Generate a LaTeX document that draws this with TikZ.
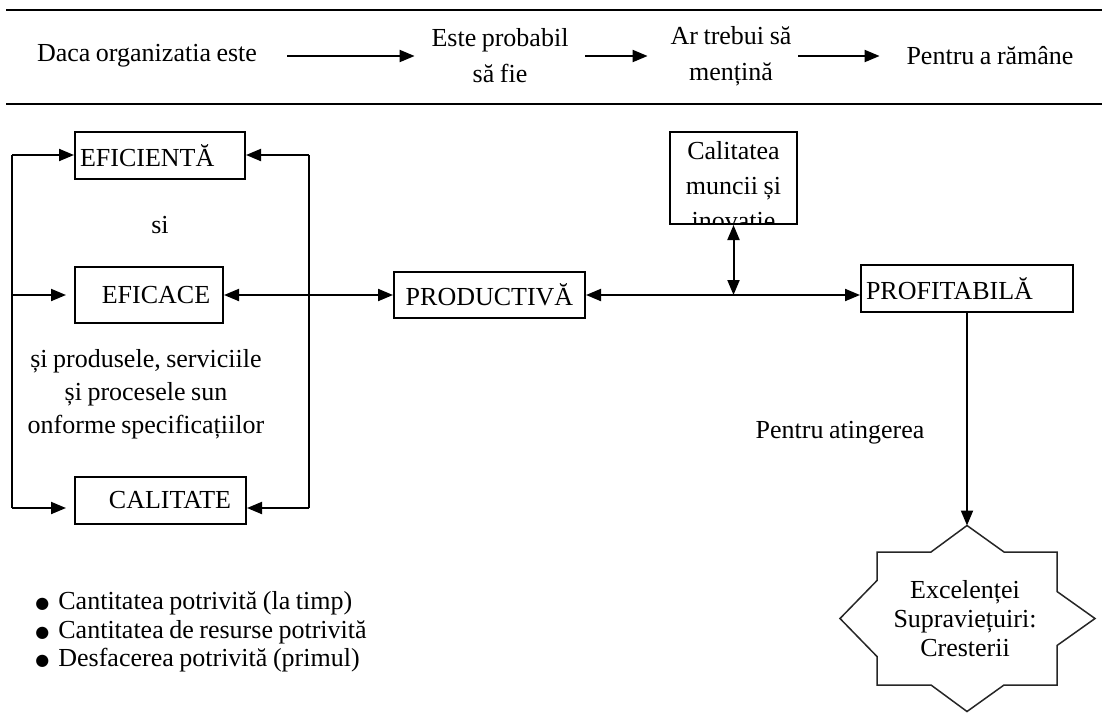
\documentclass[tikz,border=0pt]{standalone}
\usepackage{fontspec}
\setmainfont{Liberation Serif}[WordSpace=0.85]
\newfontfamily\bulletfont{DejaVu Sans}
\usetikzlibrary{arrows.meta,calc}

\newcommand\mainsz{\fontsize{13}{16}\selectfont}
\newcommand\blt{\makebox[11.5pt][l]{\raisebox{0.6pt}{\bulletfont\fontsize{8}{8}\selectfont ●}}}

\tikzset{
  lbl/.style={font=\mainsz, inner sep=0pt},
  box/.style={draw, line width=1pt, inner sep=0pt, font=\mainsz},
  link/.style={line width=1pt},
  arr/.style={line width=1pt, -{Triangle[length=7.5pt,width=6pt]}},
  dbl/.style={line width=1pt, {Triangle[length=7.5pt,width=6pt]}-{Triangle[length=7.5pt,width=6pt]}},
  rule/.style={line width=1.3pt},
  starline/.style={line width=0.75pt, draw=black!85}
}

\begin{document}
\begin{tikzpicture}[x=0.5pt,y=-0.5pt]
\useasboundingbox (0,0) rectangle (1102,713);

% header band
\draw[rule] (6,10) -- (1102,10);
\draw[rule] (6,104) -- (1102,104);

\node[lbl, minimum width=140pt, align=center] (t1) at (147,56) {Daca organizatia este};
\node[lbl, minimum width=85pt, align=center, font={\fontsize{13}{18}\selectfont}] (t2) at (500,56) {Este probabil\\să fie};
\node[lbl, minimum width=67pt, align=center, font={\fontsize{13}{18}\selectfont}] (t3) at (731,56) {Ar trebui să\\mențină};
\node[lbl, minimum width=110pt, align=center] (t4) at (990,56) {Pentru a rămâne};

\draw[arr] (t1.east) -- (t2.west);
\draw[arr, shorten >=8pt] (t2.east) -- (t3.west);
\draw[arr] (t3.east) -- (t4.west);

% left block
\node[box, minimum width=85pt, minimum height=23.5pt, text width=80pt, align=left] (efi) at (160,155.5) {EFICIENTĂ};
\node[box, minimum width=74pt, minimum height=28pt] (efic) at (149,295) {\hspace*{7pt}EFICACE};
\node[box, minimum width=85.5pt, minimum height=23.5pt] (cal) at (160.5,500.5) {\hspace*{9.5pt}CALITATE};

\node[lbl] (si) at (160,225) {si};
\node[lbl, align=center, font={\fontsize{13}{16.5}\selectfont}] (spec) at (146,394) {și produsele, serviciile\\și procesele sun\\onforme specificațiilor};

\coordinate (lt) at (12,155);
\coordinate (lb) at (12,508);
\coordinate (rt) at (309,155);
\coordinate (rb) at (309,508);

\draw[link] (lt) -- (lb);
\draw[link] (rt) -- (rb);
\draw[arr] (lt) -- (lt -| efi.west);
\draw[arr] (rt) -- (rt -| efi.east);
\draw[arr, shorten >=4pt] (lt |- efic.west) -- (efic.west);
\draw[arr, shorten >=4pt] (lb) -- (lb -| cal.west);
\draw[arr] (rb) -- (rb -| cal.east);

% middle row
\node[box, minimum width=95.5pt, minimum height=23pt] (prod) at (489.5,295) {PRODUCTIVĂ};
\node[box, minimum width=106pt, minimum height=23.5pt, text width=101pt, align=left] (prof) at (967,288.5) {PROFITABILĂ};

\node[box, minimum width=63.5pt, minimum height=46pt] (calit) at (733.5,178) {};
\begin{scope}
  \clip ($(calit.south west)+(1,-1)$) rectangle ($(calit.north east)+(-1,1)$);
  \node[lbl, align=center, font={\fontsize{13}{17.5}\selectfont}] (calittext) at (733.5,186) {Calitatea\\muncii și\\inovatie};
\end{scope}

\draw[dbl] (efic.east) -- (prod.west);
\draw[dbl] (prod.east) -- (prod.east -| prof.west);
\coordinate (junc) at (calit.south |- prod.east);
\draw[dbl] (calit.south) -- (junc);

% goal
\node[lbl] (reach) at (840,433) {Pentru atingerea};

\coordinate (startop) at (967,525.5);
\begin{scope}[shift={(967,618.5)}]
  \draw[starline, fill=white] (0,-93) -- (37,-66.5) -- (90,-66.5) -- (90,-27) -- (128,0) -- (90,27)
    -- (90,66.5) -- (37,66.5) -- (0,93) -- (-36,66.5) -- (-90,66.5) -- (-90,38) -- (-127,0)
    -- (-90,-38) -- (-90,-66.5) -- (-36,-66.5) -- cycle;
\end{scope}
\node[lbl, align=center, font={\fontsize{13}{14.5}\selectfont}] (goal) at (965,619) {Excelenței\\Supraviețuiri:\\Cresterii};

\draw[arr] (prof.south) -- (startop);

% list of conditions
\node[lbl, anchor=west, align=left, font={\fontsize{13}{14.25}\selectfont}] (list) at (35,632)
  {\blt Cantitatea potrivită (la timp)\\\blt Cantitatea de resurse potrivită\\\blt Desfacerea potrivită (primul)};
\end{tikzpicture}
\end{document}
